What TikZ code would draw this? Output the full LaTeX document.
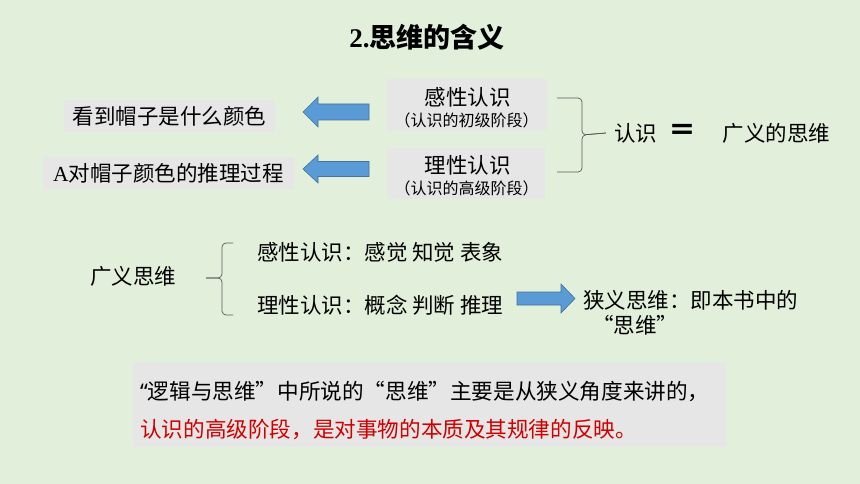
\documentclass[tikz,border=0pt]{standalone}
\usepackage{fontspec}
\setmainfont{Noto Sans CJK SC}
\newfontfamily\latinserif{Liberation Serif}
\newfontfamily\latinsans{Noto Sans}
\usetikzlibrary{positioning}

\definecolor{bggreen}{HTML}{E2EFDA}
\definecolor{boxgray}{HTML}{E7E6E6}
\definecolor{arrowblue}{HTML}{5B9BD5}
\definecolor{arrowedge}{HTML}{41719C}
\definecolor{textred}{HTML}{D00000}

\tikzset{
  txt/.style={font=\fontsize{21.5}{26}\selectfont, inner sep=0pt},
  subtxt/.style={font=\fontsize{16}{19}\selectfont, inner sep=0pt},
  notetxt/.style={font=\fontsize{21.6}{26}\selectfont, inner sep=0pt, anchor=west},
  graybox/.style={fill=boxgray, inner sep=0pt},
  blockarrow/.style={fill=arrowblue, draw=arrowedge, line width=0.6pt},
  bracket/.style={draw=black!65, line width=0.7pt, rounded corners=4pt}
}

\begin{document}
\begin{tikzpicture}[x=1pt,y=-1pt]
\fill[bggreen] (0,0) rectangle (860,484);
\useasboundingbox (0,0) rectangle (860,484);

\node[font=\fontsize{27}{32}\selectfont\bfseries, inner sep=0pt] (title) at (427,37) {{\latinserif 2.}思维的含义};

% Left boxes
\node[graybox, txt, minimum width=211, minimum height=32] (seeBox) at (169.5,116) {看到帽子是什么颜色};
\node[graybox, txt, minimum width=251, minimum height=32] (inferBox) at (168.5,173) {{\latinserif A}对帽子颜色的推理过程};

% Stage boxes
\node[graybox, minimum width=160, minimum height=52] (senseBox) at (467,105) {};
\node[txt] (senseT) at (467.5,97) {感性认识};
\node[subtxt] (senseS) at (466.5,120) {（认识的初级阶段）};
\node[graybox, minimum width=158, minimum height=51] (reasonBox) at (466,173.5) {};
\node[txt] (reasonT) at (467.5,165) {理性认识};
\node[subtxt] (reasonS) at (466.5,188) {（认识的高级阶段）};

% Block arrows
\draw[blockarrow] (369,104) -- (318,104) -- (318,97) -- (303,112) -- (318,127) -- (318,120) -- (369,120) -- cycle;
\draw[blockarrow] (369,161.5) -- (318,161.5) -- (318,155) -- (303,169) -- (318,183) -- (318,176.5) -- (369,176.5) -- cycle;

\node[txt] (know) at (635.5,133) {认识};
\node[font=\fontsize{28}{30}\selectfont\bfseries, inner sep=0pt] (eq) at (682.5,132) {＝};
\node[txt] (broad) at (776.5,133) {广义的思维};
\draw[bracket] (557,98) -- (582,98) -- (582,135) -- ([xshift=-8]know.west);
\draw[bracket] (557,172) -- (582,172) -- (582,135) -- ([xshift=-8]know.west);

% Broad thinking
\node[txt] (broadThink) at (133,276) {广义思维};
\node[txt, anchor=west] (senseLine) at (257,252) {感性认识：感觉 知觉 表象};
\node[txt, anchor=west] (reasonLine) at (257,305) {理性认识：概念 判断 推理};
\draw[bracket] (233,243) -- (222,243) -- (222,278) -- (206,278);
\draw[bracket] (233,315) -- (222,315) -- (222,278) -- (206,278);

\draw[blockarrow] (517,292) -- (561,292) -- (561,284) -- (575,298.5) -- (561,313) -- (561,305) -- (517,305) -- cycle;
\node[txt, anchor=west] (narrow) at (583,300) {狭义思维：即本书中的};
\node[txt, anchor=west] (narrowQ) at (592,325) {“思维”};

% Note
\node[graybox, minimum width=593, minimum height=85] (note) at (429.5,404.5) {};
\node[notetxt] (noteA) at (140,392) {{\latinsans “}逻辑与思维”中所说的“思维”主要是从狭义角度来讲的，};
\node[notetxt, text=textred] (noteB) at (140,430) {认识的高级阶段，是对事物的本质及其规律的反映。};
\end{tikzpicture}
\end{document}
